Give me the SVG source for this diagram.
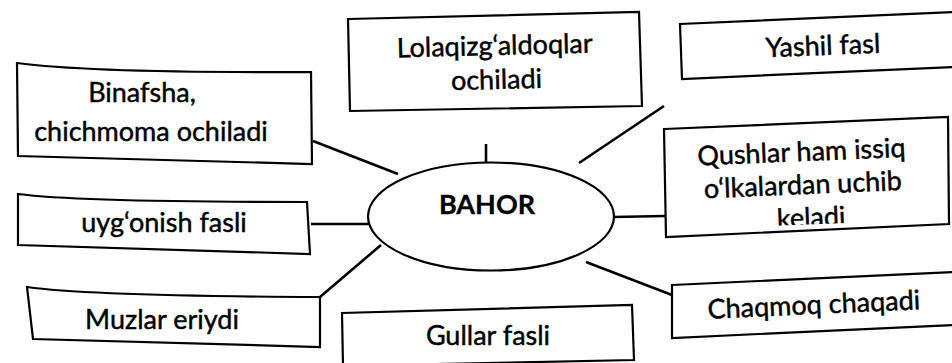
<svg xmlns="http://www.w3.org/2000/svg" width="952" height="363" viewBox="0 0 952 363">
<defs>
<style>
.box{fill:#fff;stroke:#000;stroke-width:2.2;stroke-linejoin:miter}
.t{font-family:Lato,"Open Sans","Liberation Sans",sans-serif;font-size:27px;fill:#000;stroke:#000;stroke-width:0.45;text-anchor:middle}
.b{font-weight:bold;stroke-width:0.3}
.c{stroke:#000;stroke-width:2.6;fill:none;stroke-linecap:butt}
</style>
<clipPath id="clipQ"><polygon points="664,129 948,117 949,219 666,230"/></clipPath>
</defs>
<rect width="952" height="363" fill="#fff"/>
<g id="connectors">
<line class="c" x1="313" y1="141" x2="398" y2="174"/>
<line class="c" x1="311" y1="224" x2="369" y2="224"/>
<line class="c" x1="320" y1="297" x2="381" y2="245"/>
<line class="c" x1="486" y1="144" x2="486" y2="162"/>
<line class="c" x1="664" y1="106" x2="579" y2="163"/>
<line class="c" x1="613" y1="217" x2="665" y2="216"/>
<line class="c" x1="586" y1="262" x2="672" y2="295"/>
<line class="c" x1="493" y1="308" x2="493" y2="327"/>
</g>
<g id="n-bahor">
<ellipse class="box" cx="491" cy="216.5" rx="123" ry="54"/>
<text class="t b" x="487" y="214">BAHOR</text>
</g>
<g id="n-binafsha">
<path class="box" d="M17,63 Q90,73 311,72 L312,164 L18,156 Z"/>
<text class="t" x="142" y="102">Binafsha,</text>
<text class="t" x="151" y="141">chichmoma ochiladi</text>
</g>
<g id="n-uygonish">
<path class="box" d="M18,194 Q80,202 307,202 L310,254 L18,245 Z"/>
<text class="t" x="164" y="232">uyg‘onish fasli</text>
</g>
<g id="n-muzlar">
<path class="box" d="M27,287 Q90,296 320,297 L320,347 L33,339 Z"/>
<text class="t" x="162" y="329">Muzlar eriydi</text>
</g>
<g id="n-lola">
<polygon class="box" points="348,19 639,12 642,106 350,111"/>
<g transform="rotate(-1.4 495 60)">
<text class="t" x="495" y="55">Lolaqizg‘aldoqlar</text>
<text class="t" x="496" y="89">ochiladi</text>
</g>
</g>
<g id="n-yashil">
<polygon class="box" points="680,24 954,12 954,67 682,79"/>
<text class="t" x="823" y="55" transform="rotate(-2.3 823 48)">Yashil fasl</text>
</g>
<g id="n-qushlar">
<polygon class="box" points="664,129 948,117 949,224 666,237"/>
<g clip-path="url(#clipQ)">
<g transform="rotate(-2.4 806 190)">
<text class="t" x="803" y="161">Qushlar ham issiq</text>
<text class="t" x="803" y="194">o‘lkalardan uchib</text>
<text class="t" x="810" y="227">keladi</text>
</g>
</g>
</g>
<g id="n-gullar">
<path class="box" d="M343,366 L342,313 L632,305 L634,360 Z"/>
<text class="t" x="488" y="345">Gullar fasli</text>
</g>
<g id="n-chaqmoq">
<polygon class="box" points="672,285 954,272 954,325 672,338"/>
<text class="t" x="814" y="314" transform="rotate(-2.6 814 308)">Chaqmoq chaqadi</text>
</g>
</svg>
